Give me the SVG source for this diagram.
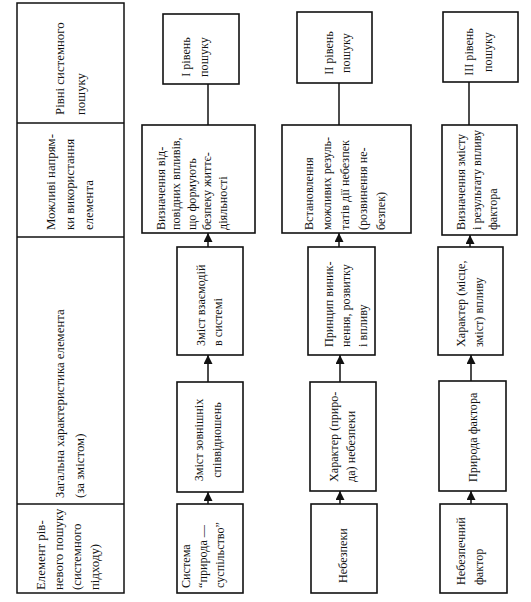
<svg xmlns="http://www.w3.org/2000/svg" width="531" height="602" viewBox="0 0 531 602">
<style>
.box{fill:#fff;stroke:#111;stroke-width:1.6}
.tbl{fill:none;stroke:#111;stroke-width:1.5}
.t{font-family:"Liberation Serif","Times New Roman",serif;font-size:13.5px;fill:#111}
.m{text-anchor:middle}
.c{stroke:#111;stroke-width:1.5;fill:none}
</style>
<defs>
<marker id="ah" viewBox="0 0 10 10" refX="10" refY="5" markerWidth="9" markerHeight="9" markerUnits="userSpaceOnUse" orient="auto"><path d="M0,0 L10,5 L0,10 z" fill="#111"/></marker>
</defs>
<rect width="531" height="602" fill="#fff"/>

<g id="legend">
<rect class="tbl" x="17" y="3" width="107" height="590"/>
<line class="tbl" x1="17" y1="123" x2="124" y2="123"/>
<line class="tbl" x1="17" y1="237" x2="124" y2="237"/>
<line class="tbl" x1="17" y1="504" x2="124" y2="504"/>
<g transform="translate(64,115) rotate(-90)"><text class="t" transform="scale(0.95,1)"><tspan x="0" y="0">Рівні системного</tspan><tspan x="0" y="21">пошуку</tspan></text></g>
<g transform="translate(55,230) rotate(-90)"><text class="t" transform="scale(0.95,1)"><tspan x="0" y="0">Можливі напрям-</tspan><tspan x="0" y="19">ки використання</tspan><tspan x="0" y="38">елемента</tspan></text></g>
<g transform="translate(64,498) rotate(-90)"><text class="t" transform="scale(0.95,1)"><tspan x="0" y="0">Загальна характеристика елемента</tspan><tspan x="0" y="20">(за змістом)</tspan></text></g>
<g transform="translate(45,590) rotate(-90)"><text class="t" transform="scale(0.95,1)"><tspan x="0" y="0">Елемент рів-</tspan><tspan x="0" y="18">невого пошуку</tspan><tspan x="0" y="36">(системного</tspan><tspan x="0" y="54">підходу)</tspan></text></g>
</g>

<g id="connectors">
<line class="c" x1="208" y1="84" x2="208" y2="125"/>
<line class="c" x1="208" y1="247" x2="208" y2="233" marker-end="url(#ah)"/>
<line class="c" x1="208" y1="382" x2="208" y2="355" marker-end="url(#ah)"/>
<line class="c" x1="208" y1="504" x2="208" y2="492" marker-end="url(#ah)"/>
<line class="c" x1="339" y1="83" x2="339" y2="125"/>
<line class="c" x1="339" y1="247" x2="339" y2="233" marker-end="url(#ah)"/>
<line class="c" x1="340" y1="382" x2="340" y2="355" marker-end="url(#ah)"/>
<line class="c" x1="340" y1="504" x2="340" y2="491" marker-end="url(#ah)"/>
<line class="c" x1="469" y1="82" x2="469" y2="125"/>
<line class="c" x1="470" y1="247" x2="470" y2="235" marker-end="url(#ah)"/>
<line class="c" x1="471" y1="381" x2="471" y2="355" marker-end="url(#ah)"/>
<line class="c" x1="471" y1="504" x2="471" y2="491" marker-end="url(#ah)"/>
</g>

<g id="level1">
<rect class="box" x="163" y="14" width="76" height="70"/>
<g transform="translate(190,57) rotate(-90)"><text class="t m" transform="scale(0.9,1)"><tspan x="0" y="0">I рівень</tspan><tspan x="0" y="18">пошуку</tspan></text></g>
</g>
<g id="use1">
<rect class="box" x="142" y="125" width="113" height="108"/>
<g transform="translate(165,230) rotate(-90)"><text class="t" transform="scale(0.9,1)"><tspan x="0" y="0">Визначення від-</tspan><tspan x="0" y="15.5">повідних впливів,</tspan><tspan x="0" y="31">що формують</tspan><tspan x="0" y="46.5">безпеку життє-</tspan><tspan x="0" y="62">діяльності</tspan></text></g>
</g>
<g id="char1b">
<rect class="box" x="177" y="247" width="66" height="108"/>
<g transform="translate(205,346) rotate(-90)"><text class="t" transform="scale(0.9,1)"><tspan x="0" y="0">Зміст взаємодій</tspan><tspan x="0" y="17">в системі</tspan></text></g>
</g>
<g id="char1a">
<rect class="box" x="177" y="382" width="66" height="110"/>
<g transform="translate(203,440) rotate(-90)"><text class="t m" transform="scale(0.9,1)"><tspan x="0" y="0">Зміст зовнішніх</tspan><tspan x="0" y="18">співвідношень</tspan></text></g>
</g>
<g id="elem1">
<rect class="box" x="177" y="504" width="66" height="89"/>
<g transform="translate(190,588) rotate(-90)"><text class="t" transform="scale(0.9,1)"><tspan x="0" y="0">Система</tspan><tspan x="0" y="17">“природа —</tspan><tspan x="0" y="34">суспільство”</tspan></text></g>
</g>

<g id="level2">
<rect class="box" x="297" y="12" width="75" height="71"/>
<g transform="translate(333,53) rotate(-90)"><text class="t m" transform="scale(0.9,1)"><tspan x="0" y="0">II рівень</tspan><tspan x="0" y="17">пошуку</tspan></text></g>
</g>
<g id="use2">
<rect class="box" x="282" y="125" width="129" height="108"/>
<g transform="translate(313,230) rotate(-90)"><text class="t" transform="scale(0.9,1)"><tspan x="0" y="0">Встановлення</tspan><tspan x="0" y="18">можливих резуль-</tspan><tspan x="0" y="36">татів дії небезпек</tspan><tspan x="0" y="54">(розвинення не-</tspan><tspan x="0" y="72">безпек)</tspan></text></g>
</g>
<g id="char2b">
<rect class="box" x="308" y="247" width="67" height="108"/>
<g transform="translate(333,347) rotate(-90)"><text class="t" transform="scale(0.9,1)"><tspan x="0" y="0">Принцип виник-</tspan><tspan x="0" y="17">нення, розвитку</tspan><tspan x="0" y="34">і впливу</tspan></text></g>
</g>
<g id="char2a">
<rect class="box" x="310" y="382" width="66" height="109"/>
<g transform="translate(338,482) rotate(-90)"><text class="t" transform="scale(0.9,1)"><tspan x="0" y="0">Характер (приро-</tspan><tspan x="0" y="17">да) небезпеки</tspan></text></g>
</g>
<g id="elem2">
<rect class="box" x="311" y="504" width="66" height="89"/>
<g transform="translate(347,583) rotate(-90)"><text class="t" transform="scale(0.9,1)"><tspan x="0" y="0">Небезпеки</tspan></text></g>
</g>

<g id="level3">
<rect class="box" x="443" y="12" width="75" height="70"/>
<g transform="translate(473,52) rotate(-90)"><text class="t m" transform="scale(0.9,1)"><tspan x="0" y="0">III рівень</tspan><tspan x="0" y="19">пошуку</tspan></text></g>
</g>
<g id="use3">
<rect class="box" x="442" y="125" width="75" height="110"/>
<g transform="translate(465,230) rotate(-90)"><text class="t" transform="scale(0.9,1)"><tspan x="0" y="0">Визначення змісту</tspan><tspan x="0" y="16">і результату впливу</tspan><tspan x="0" y="32">фактора</tspan></text></g>
</g>
<g id="char3b">
<rect class="box" x="438" y="247" width="65" height="108"/>
<g transform="translate(465,347) rotate(-90)"><text class="t" transform="scale(0.9,1)"><tspan x="0" y="0">Характер (місце,</tspan><tspan x="0" y="18">зміст) впливу</tspan></text></g>
</g>
<g id="char3a">
<rect class="box" x="439" y="381" width="67" height="110"/>
<g transform="translate(477,482) rotate(-90)"><text class="t" transform="scale(0.9,1)"><tspan x="0" y="0">Природа фактора</tspan></text></g>
</g>
<g id="elem3">
<rect class="box" x="440" y="504" width="67" height="89"/>
<g transform="translate(465,585) rotate(-90)"><text class="t" transform="scale(0.9,1)"><tspan x="0" y="0">Небезпечний</tspan><tspan x="0" y="18">фактор</tspan></text></g>
</g>
</svg>
